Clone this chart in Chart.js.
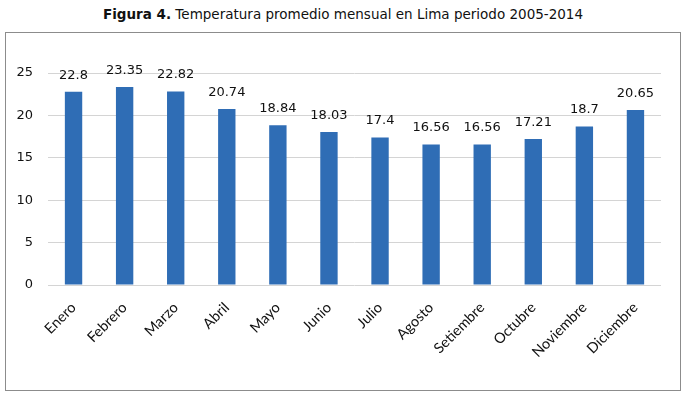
<!DOCTYPE html>
<html>
<head>
<meta charset="utf-8">
<script src="https://cdn.jsdelivr.net/npm/chart.js@4.4.1/dist/chart.umd.min.js"></script>
<style>
  body { margin: 0; background: #fff; width: 686px; height: 397px; position: relative; overflow: hidden; }
  #title { position: absolute; left: 0; top: 6px; width: 686px; text-align: center;
           font-family: "DejaVu Sans", sans-serif; font-size: 13.5px; color: #111; }
  #box { position: absolute; left: 5px; top: 32px; width: 674px; height: 357px; border: 1px solid #8c8c8c; }
  #box canvas { display: block; }
</style>
</head>
<body>
<div id="title"><b>Figura 4.</b> Temperatura promedio mensual en Lima periodo 2005-2014</div>
<div id="box"><canvas id="chart" width="674" height="357"></canvas></div>
<script>
let months = ["Enero", "Febrero", "Marzo", "Abril", "Mayo", "Junio", "Julio", "Agosto", "Setiembre", "Octubre", "Noviembre", "Diciembre"];
let temps = [22.8, 23.35, 22.82, 20.74, 18.84, 18.03, 17.4, 16.56, 16.56, 17.21, 18.7, 20.65];
let yTicks = [0, 5, 10, 15, 20, 25];

// value labels above each bar
let valueLabels = {
    id: "valueLabels",
    afterDatasetsDraw(chart) {
        let ctx = chart.ctx;
        let meta = chart.getDatasetMeta(0);
        ctx.save();
        ctx.font = "13px 'DejaVu Sans', sans-serif";
        ctx.fillStyle = "#111";
        ctx.textAlign = "center";
        ctx.textBaseline = "bottom";
        meta.data.forEach((bar, i) => {
            ctx.fillText(String(temps[i]), bar.x, bar.y - 10);
        });
        ctx.restore();
    }
};

new Chart(document.getElementById("chart"), {
    type: "bar",
    data: {
        labels: months,
        datasets: [{
            data: temps,
            backgroundColor: "#2f6db5",
            borderWidth: 0,
            barPercentage: 0.34,
            categoryPercentage: 1
        }]
    },
    options: {
        responsive: false,
        animation: false,
        layout: { padding: { left: 0, right: 19, top: 40, bottom: 0 } },
        plugins: { legend: { display: false }, tooltip: { enabled: false } },
        scales: {
            x: {
                grid: { display: false, drawTicks: false },
                border: { display: false },
                ticks: {
                    minRotation: 45, maxRotation: 45, padding: 14,
                    color: "#111",
                    font: { family: "Lato", size: 14.5 }
                },
                afterFit(scale) { scale.height = 105; }
            },
            y: {
                min: 0, max: 25,
                afterBuildTicks(scale) { scale.ticks = yTicks.map(v => ({ value: v })); },
                grid: { color: "#d4d4d4", drawTicks: false },
                border: { display: false },
                ticks: {
                    padding: 15,
                    color: "#111",
                    font: { family: "DejaVu Sans", size: 13 }
                },
                afterFit(scale) { scale.width = 42; }
            }
        }
    },
    plugins: [valueLabels]
});
</script>
</body>
</html>
